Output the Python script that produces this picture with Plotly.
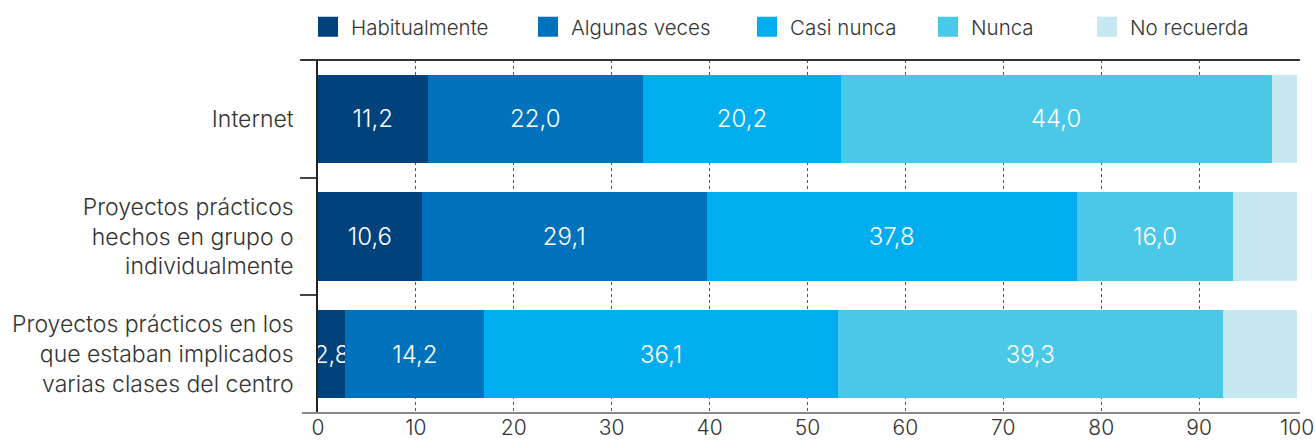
import plotly.graph_objects as go

categories = [
    "Internet",
    "Proyectos prácticos<br>hechos en grupo o<br>individualmente",
    "Proyectos prácticos en los<br>que estaban implicados<br>varias clases del centro",
]
series_names = ["Habitualmente", "Algunas veces", "Casi nunca", "Nunca", "No recuerda"]
habitualmente = [11.2, 10.6, 2.8]
algunas_veces = [22.0, 29.1, 14.2]
casi_nunca = [20.2, 37.8, 36.1]
nunca = [44.0, 16.0, 39.3]
no_recuerda = [2.6, 6.5, 7.6]
x_ticks = [0, 10, 20, 30, 40, 50, 60, 70, 80, 90, 100]

colors = ["#00437c", "#0072bc", "#00aeef", "#4bc8e8", "#c6e8f0"]
series_values = [habitualmente, algunas_veces, casi_nunca, nunca, no_recuerda]
show_labels = [True, True, True, True, False]

FONT = "Inter"
W = 300
TXT = "#333333"

fig = go.Figure()
for name, vals, col, lab in zip(series_names, series_values, colors, show_labels):
    fig.add_trace(go.Bar(
        y=categories, x=vals, name=name, orientation="h",
        marker=dict(color=col, line=dict(width=0)),
        text=[f"{v:.1f}".replace(".", ",") for v in vals] if lab else None,
        textposition="inside" if lab else "none",
        insidetextanchor="middle",
        textangle=0,
        constraintext="none",
        textfont=dict(family=FONT, size=24, color="white", weight=W),
        showlegend=False,
        hoverinfo="skip",
    ))

# legend entries (one legend per entry to place them like the reference)
legend_x_px = [318, 538, 757, 938, 1097]
plot_left, plot_w = 318, 979
for i, (name, col) in enumerate(zip(series_names, colors)):
    lname = "legend" if i == 0 else f"legend{i+1}"
    fig.add_trace(go.Scatter(
        x=[None], y=[None], mode="markers", name=name,
        marker=dict(symbol="square", size=16, color=col, line=dict(color=col, width=4)),
        legend=lname, showlegend=True, hoverinfo="skip",
    ))

legend_layouts = {}
for i, px in enumerate(legend_x_px):
    lname = "legend" if i == 0 else f"legend{i+1}"
    legend_layouts[lname] = dict(
        x=(px - 13 - plot_left) / plot_w, xanchor="left",
        y=1 + (60 - 27) / 353, yanchor="middle",
        orientation="h", itemsizing="trace", itemwidth=36,
        font=dict(family=FONT, size=20.5, color=TXT, weight=W),
        bgcolor="rgba(0,0,0,0)", borderwidth=0,
    )

fig.update_layout(
    barmode="stack",
    bargap=0.25,
    width=1315, height=441,
    margin=dict(l=318, r=18, t=60, b=28, autoexpand=False),
    plot_bgcolor="white", paper_bgcolor="white",
    font=dict(family=FONT, color=TXT, weight=W),
    **legend_layouts,
)

fig.update_xaxes(
    range=[0, 100], tickvals=x_ticks, ticktext=[str(t) for t in x_ticks],
    showgrid=True, gridcolor="#555555", gridwidth=1, griddash="dot",
    zeroline=False, showline=False, ticks="",
    tickfont=dict(family=FONT, size=21, color=TXT, weight=W),
    ticklabeloverflow="allow",
    automargin=False,
    fixedrange=True,
)
fig.update_yaxes(
    categoryorder="array", categoryarray=categories, autorange="reversed",
    showline=True, linecolor="#222222", linewidth=1.5,
    ticks="outside", tickson="boundaries", ticklen=16, tickcolor="#444444", tickwidth=1.5,
    ticklabelstandoff=18,
    tickfont=dict(family=FONT, size=23, color=TXT, weight=W),
    showgrid=False, zeroline=False,
    automargin=False,
    fixedrange=True,
)

# top and bottom frame lines extending under the category ticks
fig.add_shape(type="line", xref="paper", yref="paper", x0=-16 / plot_w, x1=1 + 3 / plot_w,
              y0=1, y1=1, line=dict(color="#333333", width=2))
fig.add_shape(type="line", xref="paper", yref="paper", x0=-16 / plot_w, x1=1 + 3 / plot_w,
              y0=0, y1=0, line=dict(color="#888888", width=2))

fig.write_html("out.html", config={"displayModeBar": False},
               post_script="document.body.style.margin='0';document.body.style.padding='0';")
